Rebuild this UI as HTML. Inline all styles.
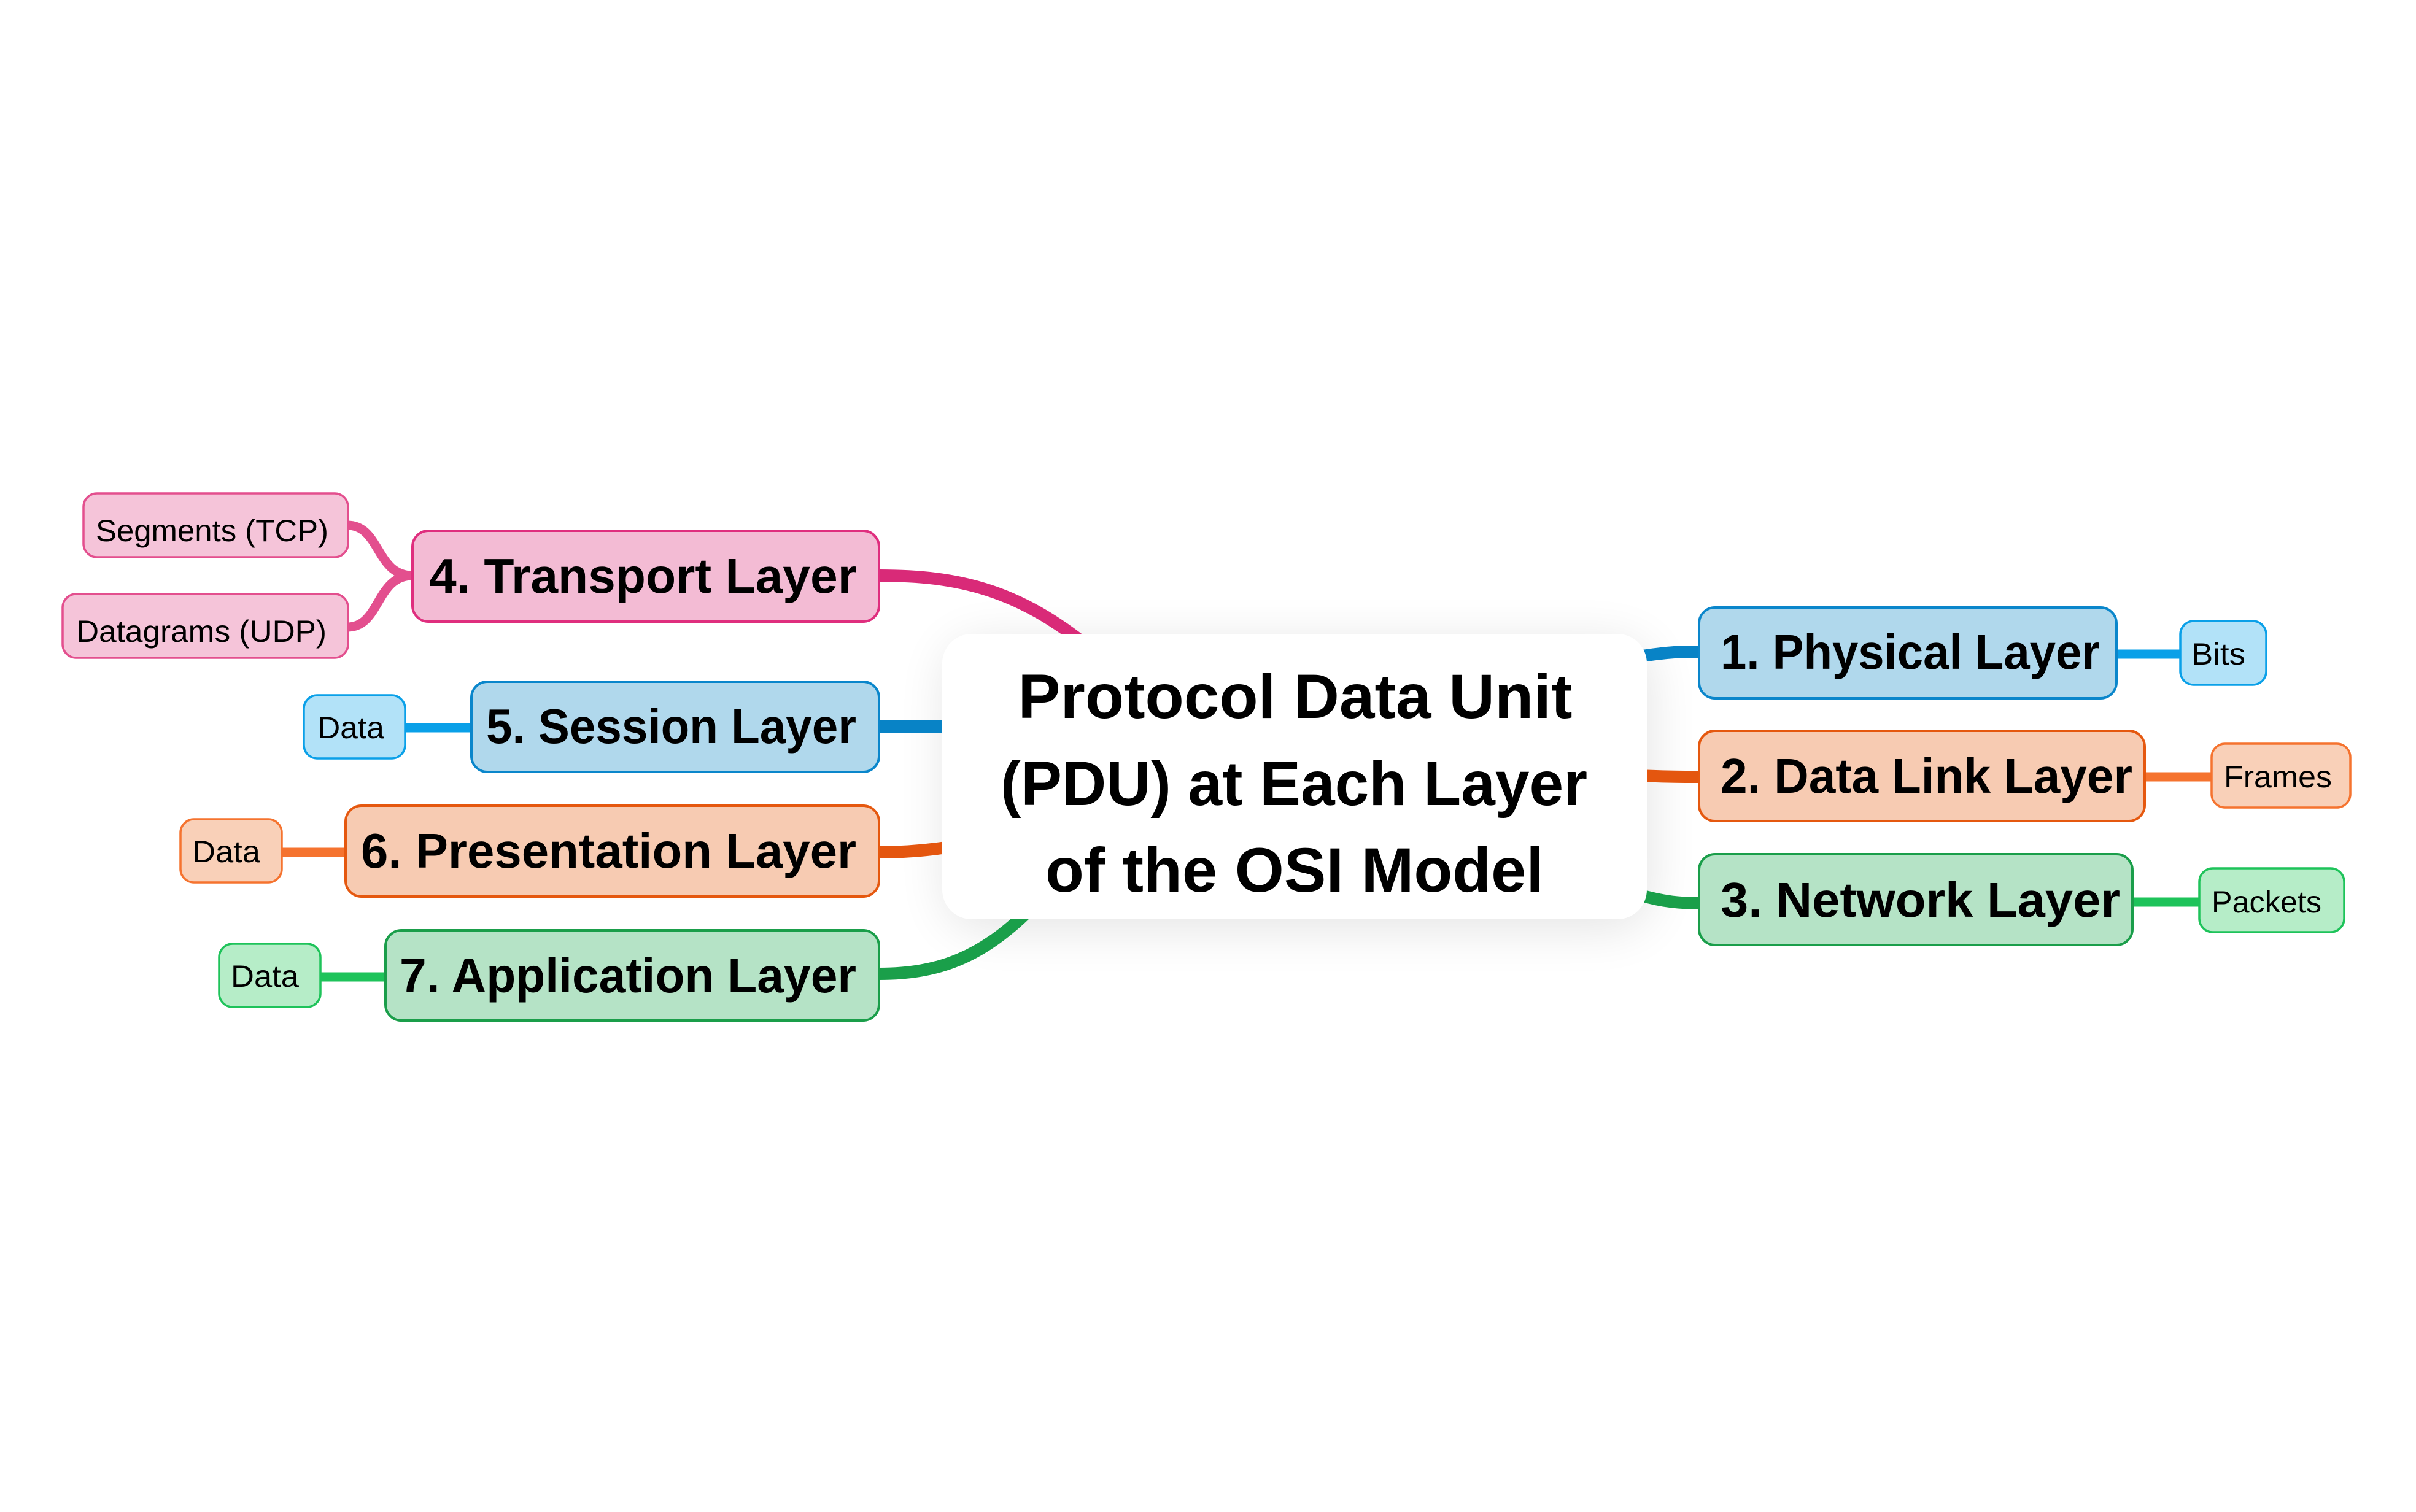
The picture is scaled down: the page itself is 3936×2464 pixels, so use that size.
<!DOCTYPE html>
<html><head><meta charset="utf-8"><style>
html,body{margin:0;padding:0;background:#fff;}
svg{display:block}
text{font-family:"Liberation Sans",sans-serif;font-weight:bold;fill:#000}
.s{font-weight:normal}
</style></head><body>
<svg width="3936" height="2464" viewBox="0 0 3936 2464" xmlns="http://www.w3.org/2000/svg">
<defs>
<filter id="sh" x="-20%" y="-30%" width="140%" height="160%"><feGaussianBlur stdDeviation="40"/></filter>
</defs>
<rect x="1540" y="1045" width="1150" height="470" rx="60" fill="#000" opacity="0.10" filter="url(#sh)"/>
<g fill="none" stroke-width="20" stroke-linecap="butt">
<path d="M1432,938 C1560,938 1660,960 1780,1060" stroke="#d92a78"/>
<path d="M1432,1184 L1560,1184" stroke="#0883c6"/>
<path d="M1432,1389 C1480,1389 1520,1385 1560,1378" stroke="#e4560f"/>
<path d="M1432,1587 C1530,1587 1600,1560 1680,1480" stroke="#1a9f4a"/>
<path d="M2670,1070 C2720,1062 2740,1062 2770,1062" stroke="#0883c6"/>
<path d="M2670,1264 C2720,1266 2740,1266 2770,1266" stroke="#e4560f"/>
<path d="M2670,1458 C2710,1470 2740,1472 2770,1472" stroke="#1a9f4a"/>
</g>
<g fill="none" stroke-width="15">
<path d="M566,856 C620,856 612,938 672,938" stroke="#e34f8e"/>
<path d="M566,1022 C620,1022 612,938 672,938" stroke="#e34f8e"/>
<path d="M660,1186 L766,1186" stroke="#0aa0e8"/>
<path d="M459,1389 L563,1389" stroke="#f5732f"/>
<path d="M522,1592 L626,1592" stroke="#1ec35a"/>
<path d="M3450,1066 L3552,1066" stroke="#0aa0e8"/>
<path d="M3495,1266 L3603,1266" stroke="#f5732f"/>
<path d="M3475,1470 L3583,1470" stroke="#1ec35a"/>
</g>
<rect x="1535" y="1033" width="1148" height="465" rx="48" fill="#fff"/>
<text x="2110" y="1170" font-size="102" text-anchor="middle" textLength="903" lengthAdjust="spacingAndGlyphs">Protocol Data Unit</text>
<text x="2108" y="1312" font-size="102" text-anchor="middle" textLength="956" lengthAdjust="spacingAndGlyphs">(PDU) at Each Layer</text>
<text x="2109" y="1453" font-size="102" text-anchor="middle" textLength="812" lengthAdjust="spacingAndGlyphs">of the OSI Model</text>
<g stroke-width="4">
<rect x="672" y="865" width="760" height="148" rx="26" fill="#f3bbd4" stroke="#df2e7e"/>
<rect x="768" y="1111" width="664" height="147" rx="26" fill="#b0d8ec" stroke="#0a86cb"/>
<rect x="563" y="1313" width="869" height="148" rx="26" fill="#f7cbb2" stroke="#e5580f"/>
<rect x="628" y="1516" width="804" height="147" rx="26" fill="#b5e3c6" stroke="#1a9e4a"/>
<rect x="2768" y="990" width="680" height="148" rx="26" fill="#b0d8ec" stroke="#0a86cb"/>
<rect x="2768" y="1191" width="726" height="147" rx="26" fill="#f7cbb2" stroke="#e5580f"/>
<rect x="2768" y="1392" width="706" height="148" rx="26" fill="#b5e3c6" stroke="#1a9e4a"/>
</g>
<text x="699" y="966" font-size="80" textLength="697" lengthAdjust="spacingAndGlyphs">4. Transport Layer</text>
<text x="792" y="1211" font-size="80" textLength="603" lengthAdjust="spacingAndGlyphs">5. Session Layer</text>
<text x="588" y="1414" font-size="80" textLength="807" lengthAdjust="spacingAndGlyphs">6. Presentation Layer</text>
<text x="651" y="1617" font-size="80" textLength="744" lengthAdjust="spacingAndGlyphs">7. Application Layer</text>
<text x="2803" y="1090" font-size="80" textLength="618" lengthAdjust="spacingAndGlyphs">1. Physical Layer</text>
<text x="2803" y="1292" font-size="80" textLength="671" lengthAdjust="spacingAndGlyphs">2. Data Link Layer</text>
<text x="2803" y="1494" font-size="80" textLength="651" lengthAdjust="spacingAndGlyphs">3. Network Layer</text>
<g stroke-width="3.5">
<rect x="136" y="804" width="431" height="104" rx="22" fill="#f5c4d9" stroke="#e34f8e"/>
<rect x="102" y="968" width="465" height="104" rx="22" fill="#f5c4d9" stroke="#e34f8e"/>
<rect x="495" y="1133" width="165" height="103" rx="22" fill="#b2e2f8" stroke="#0aa0e8"/>
<rect x="294" y="1335" width="165" height="103" rx="22" fill="#f9d0b8" stroke="#f5732f"/>
<rect x="357" y="1538" width="165" height="103" rx="22" fill="#b6edc8" stroke="#1ec35a"/>
<rect x="3552" y="1012" width="140" height="104" rx="22" fill="#b2e2f8" stroke="#0aa0e8"/>
<rect x="3603" y="1212" width="226" height="104" rx="22" fill="#f9d0b8" stroke="#f5732f"/>
<rect x="3583" y="1415" width="236" height="104" rx="22" fill="#b6edc8" stroke="#1ec35a"/>
</g>
<text class="s" x="156" y="882" font-size="50" textLength="379" lengthAdjust="spacingAndGlyphs">Segments (TCP)</text>
<text class="s" x="124" y="1046" font-size="50" textLength="408" lengthAdjust="spacingAndGlyphs">Datagrams (UDP)</text>
<text class="s" x="517" y="1203" font-size="50" textLength="109" lengthAdjust="spacingAndGlyphs">Data</text>
<text class="s" x="313" y="1405" font-size="50" textLength="111" lengthAdjust="spacingAndGlyphs">Data</text>
<text class="s" x="376" y="1608" font-size="50" textLength="111" lengthAdjust="spacingAndGlyphs">Data</text>
<text class="s" x="3570" y="1083" font-size="50" textLength="88" lengthAdjust="spacingAndGlyphs">Bits</text>
<text class="s" x="3623" y="1283" font-size="50" textLength="176" lengthAdjust="spacingAndGlyphs">Frames</text>
<text class="s" x="3603" y="1487" font-size="50" textLength="179" lengthAdjust="spacingAndGlyphs">Packets</text>
</svg>
</body></html>
